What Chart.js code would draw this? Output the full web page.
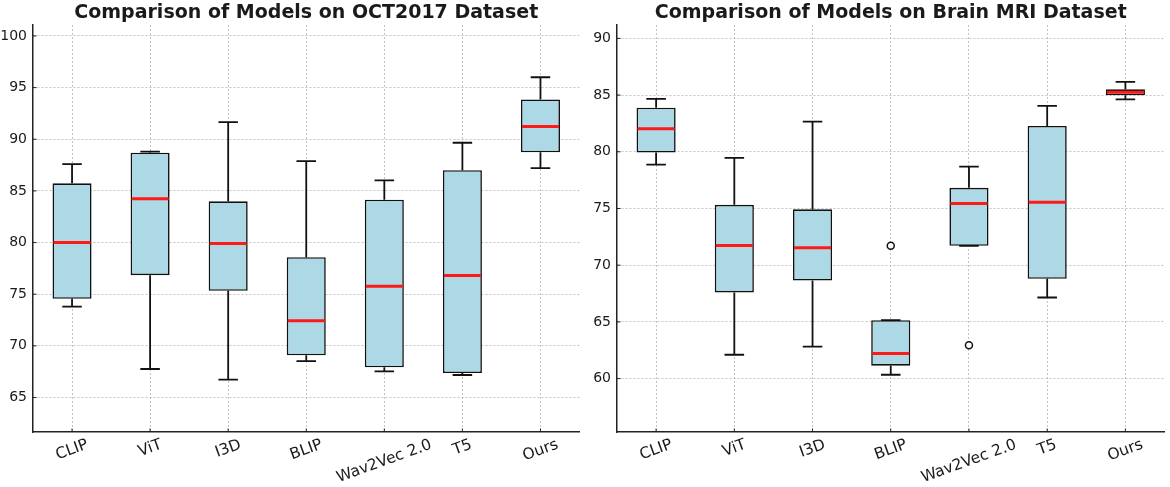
<!DOCTYPE html>
<html lang="en">
<head>
  <meta charset="UTF-8">
  <title>Model Comparison Box Plots</title>
  <script src="https://cdn.jsdelivr.net/npm/chart.js"></script>
  <style>
    body {
      margin: 0;
      background: #fff;
      font-family: "DejaVu Sans", sans-serif;
    }
    .wrap {
      position: relative;
      width: 1170px;
      height: 487px;
    }
    canvas {
      position: absolute;
      top: 0;
    }
  </style>
</head>
<body>
  <div class="wrap">
    <canvas id="octChart" width="585" height="487" style="left:0"></canvas>
    <canvas id="brainChart" width="585" height="487" style="left:585px"></canvas>
  </div>

  <script>
    const categories = ['CLIP', 'ViT', 'I3D', 'BLIP', 'Wav2Vec 2.0', 'T5', 'Ours'];

    // OCT2017 box plot values
    const octLow    = [73.8, 67.76, 66.73, 68.53, 67.53, 67.18, 87.21];
    const octQ1     = [74.55, 76.84, 75.33, 69.08, 67.92, 67.37, 88.73];
    const octMedian = [80.0, 84.25, 79.9, 72.43, 75.78, 76.8, 91.24];
    const octQ3     = [85.73, 88.7, 83.99, 78.58, 84.15, 87.01, 93.85];
    const octHigh   = [87.6, 88.8, 91.65, 87.88, 86.02, 89.66, 96.0];
    const octOutliers = [null, null, null, null, null, null, null];
    const octTicks  = [65, 70, 75, 80, 85, 90, 95, 100];

    // Brain MRI box plot values
    const brainLow    = [78.87, 62.1, 62.81, 60.34, 71.71, 67.15, 84.63];
    const brainQ1     = [79.93, 67.6, 68.65, 61.14, 71.71, 68.8, 84.98];
    const brainMedian = [82.04, 71.74, 71.53, 62.22, 75.44, 75.55, 85.24];
    const brainQ3     = [83.89, 75.32, 74.93, 65.15, 76.82, 82.28, 85.51];
    const brainHigh   = [84.66, 79.46, 82.66, 65.15, 78.7, 84.04, 86.16];
    const brainOutliers = [null, null, null, 71.71, 62.95, null, null];
    const brainTicks  = [60, 65, 70, 75, 80, 85, 90];

    const FONT = '"DejaVu Sans", sans-serif';
    const LABEL_ROT = 20 * Math.PI / 180;
    const GRID = 'rgba(185,185,185,0.85)';

    // whiskers, caps, medians, inward tick marks, title and rotated x labels
    const boxPlugin = {
      id: 'boxExtras',
      afterDatasetsDraw(chart) {
        const ctx = chart.ctx;
        const y = chart.scales.y;
        const st = chart.options.plugins.boxExtras;
        const bars = chart.getDatasetMeta(0).data;
        ctx.save();
        bars.forEach((bar, i) => {
          const x = bar.x;
          const half = bar.width / 2;
          ctx.strokeStyle = '#111';
          ctx.lineWidth = 1.8;
          ctx.beginPath();
          ctx.moveTo(x, y.getPixelForValue(st.low[i]));
          ctx.lineTo(x, y.getPixelForValue(st.q1[i]));
          ctx.moveTo(x, y.getPixelForValue(st.q3[i]));
          ctx.lineTo(x, y.getPixelForValue(st.high[i]));
          ctx.moveTo(x - half / 2, y.getPixelForValue(st.low[i]));
          ctx.lineTo(x + half / 2, y.getPixelForValue(st.low[i]));
          ctx.moveTo(x - half / 2, y.getPixelForValue(st.high[i]));
          ctx.lineTo(x + half / 2, y.getPixelForValue(st.high[i]));
          ctx.stroke();
          ctx.strokeStyle = '#ff1a1a';
          ctx.lineWidth = 3;
          ctx.beginPath();
          ctx.moveTo(x - half + 1, y.getPixelForValue(st.median[i]));
          ctx.lineTo(x + half - 1, y.getPixelForValue(st.median[i]));
          ctx.stroke();
        });
        ctx.restore();
      },
      afterDraw(chart) {
        const ctx = chart.ctx;
        const area = chart.chartArea;
        const x = chart.scales.x;
        const y = chart.scales.y;
        const st = chart.options.plugins.boxExtras;
        ctx.save();
        // small inward ticks
        ctx.strokeStyle = '#222';
        ctx.lineWidth = 1;
        ctx.beginPath();
        categories.forEach((c, i) => {
          const px = x.getPixelForValue(i);
          ctx.moveTo(px, area.bottom);
          ctx.lineTo(px, area.bottom - 3.5);
        });
        y.ticks.forEach(t => {
          const py = y.getPixelForValue(t.value);
          ctx.moveTo(area.left, py);
          ctx.lineTo(area.left + 3.5, py);
        });
        ctx.stroke();

        ctx.fillStyle = '#1a1a1a';
        ctx.font = 'bold 19px ' + FONT;
        ctx.textAlign = 'center';
        ctx.textBaseline = 'alphabetic';
        ctx.fillText(st.title, (area.left + area.right) / 2, 18);

        ctx.font = '15.5px ' + FONT;
        ctx.textBaseline = 'middle';
        const h = 15.5;
        categories.forEach((c, i) => {
          const w = ctx.measureText(c).width;
          const boxH = w * Math.sin(LABEL_ROT) + h * Math.cos(LABEL_ROT);
          ctx.save();
          ctx.translate(x.getPixelForValue(i), area.bottom + 5 + boxH / 2);
          ctx.rotate(-LABEL_ROT);
          ctx.fillText(c, 0, 0);
          ctx.restore();
        });
        ctx.restore();
      }
    };

    function makeChart(id, title, low, q1, median, q3, high, outliers, ticks, yMin, yMax, yWidth, padRight) {
      return new Chart(document.getElementById(id).getContext('2d'), {
        type: 'bar',
        data: {
          labels: categories,
          datasets: [{
            data: q1.map((v, i) => [v, q3[i]]),
            backgroundColor: '#add8e6',
            borderColor: '#111',
            borderWidth: 1.6,
            borderSkipped: false,
            barPercentage: 0.5,
            categoryPercentage: 1.0,
            order: 2
          }, {
            type: 'line',
            data: outliers,
            showLine: false,
            pointRadius: 3.5,
            pointBorderWidth: 1.5,
            pointBorderColor: '#111',
            pointBackgroundColor: '#fff',
            order: 1
          }]
        },
        options: {
          responsive: false,
          animation: false,
          devicePixelRatio: 1,
          layout: { padding: { top: 25, bottom: 55, right: padRight, left: 0 } },
          plugins: {
            legend: { display: false },
            tooltip: { enabled: false },
            boxExtras: { title, low, q1, median, q3, high }
          },
          scales: {
            x: {
              offset: true,
              grid: { offset: false, color: GRID, lineWidth: 1, drawTicks: false },
              border: { color: '#222', width: 1.5, dash: [2, 2] },
              ticks: { display: false },
              afterFit(s) { s.height = 0; }
            },
            y: {
              min: yMin,
              max: yMax,
              grid: { color: GRID, lineWidth: 1, drawTicks: false },
              border: { color: '#222', width: 1.5, dash: [2, 2] },
              ticks: { padding: 6, color: '#1a1a1a', font: { family: FONT, size: 14 } },
              afterBuildTicks(s) { s.ticks = ticks.map(v => ({ value: v })); },
              afterFit(s) { s.width = yWidth; }
            }
          }
        },
        plugins: [boxPlugin]
      });
    }

    makeChart('octChart', 'Comparison of Models on OCT2017 Dataset',
      octLow, octQ1, octMedian, octQ3, octHigh, octOutliers, octTicks, 61.66, 101.06, 33, 2);
    makeChart('brainChart', 'Comparison of Models on Brain MRI Dataset',
      brainLow, brainQ1, brainMedian, brainQ3, brainHigh, brainOutliers, brainTicks, 55.29, 91.18, 32, 1);
  </script>
</body>
</html>
